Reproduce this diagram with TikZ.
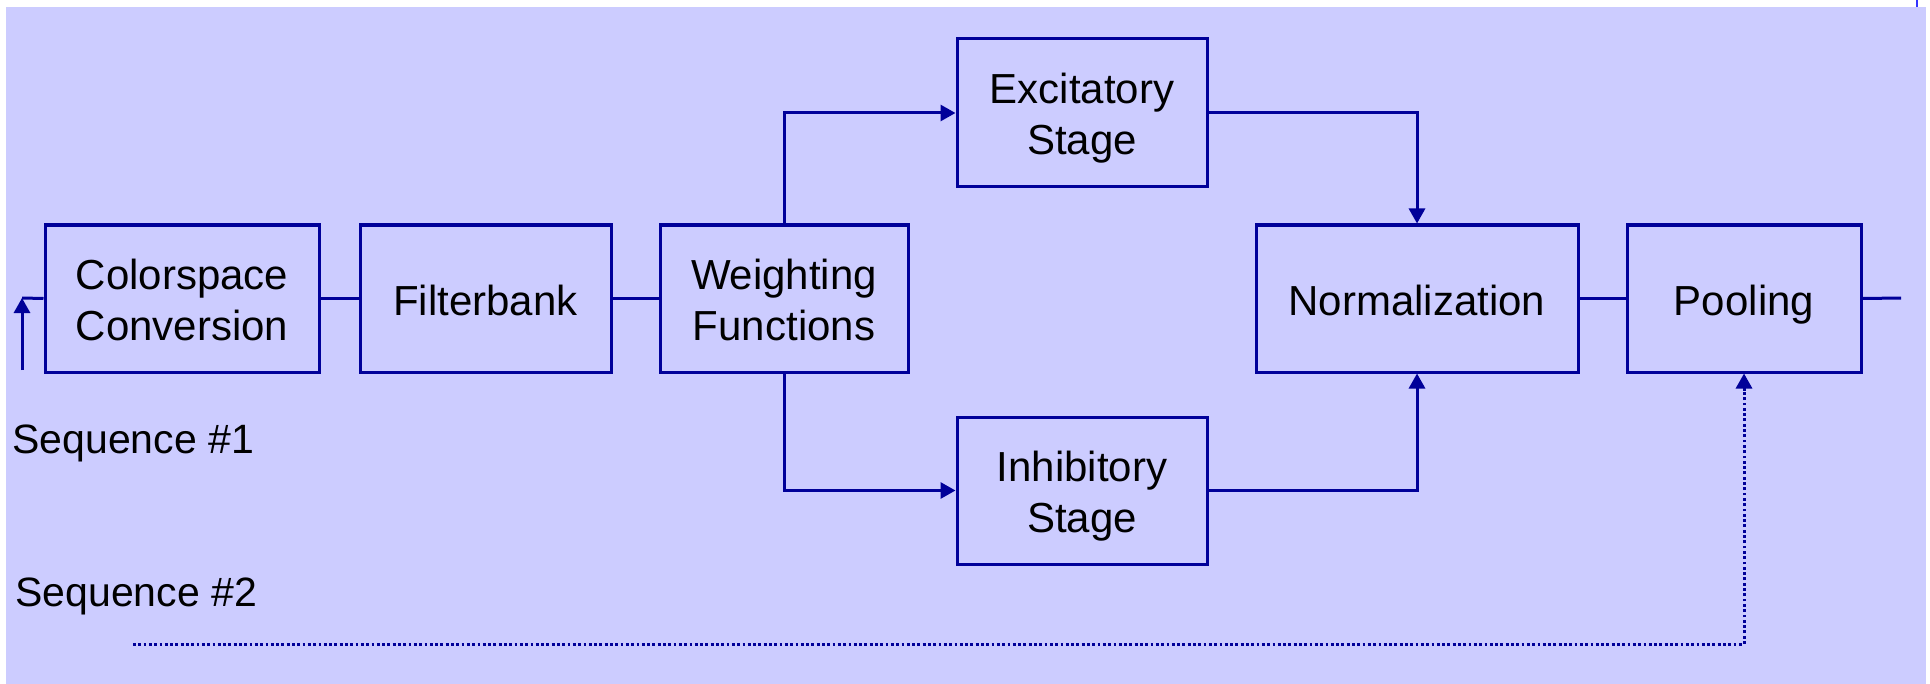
\documentclass[tikz,border=0pt]{standalone}
\usepackage{fontspec}
\setmainfont{Liberation Sans}
\usetikzlibrary{arrows.meta}
\definecolor{bgc}{HTML}{CCCCFF}
\definecolor{ln}{HTML}{000099}
\definecolor{tickblue}{HTML}{3333FF}
\begin{document}
\begin{tikzpicture}[x=0.5pt,y=-0.5pt,
  box/.style={draw=ln,line width=1.5pt,rectangle,inner sep=0pt,align=center,
    font=\fontsize{21pt}{25.5pt}\selectfont,minimum height=73.5pt},
  one/.style={text height=16.5pt,text depth=0pt},
  two/.style={text height=41.5pt,text depth=0pt},
  conn/.style={draw=ln,line width=1.5pt},
  arr/.style={conn,-{Triangle[length=7.5pt,width=8pt]}},
  dotline/.style={conn,dash pattern=on 1.4pt off 1.25pt},
  lab/.style={font=\fontsize{20.5pt}{25pt}\selectfont,inner sep=0pt,anchor=base west}]
\useasboundingbox (0,0) rectangle (1930,684);
\fill[bgc] (6,7) rectangle (1926,684);
\draw[tickblue,line width=1pt] (1917,0) -- (1917,7);

\node[box,two,minimum width=137pt] (cs) at (182,298.5) {Colorspace\\Conversion};
\node[box,one,minimum width=125.5pt] (fb) at (485.5,298.5) {Filterbank};
\node[box,two,minimum width=124pt] (wf) at (784,298.5) {Weighting\\Functions};
\node[box,two,minimum width=125pt,minimum height=74pt] (ex) at (1082,113) {Excitatory\\Stage};
\node[box,two,minimum width=125pt] (ih) at (1082,490.5) {Inhibitory\\Stage};
\node[box,one,minimum width=161pt] (nm) at (1417,298.5) {Normalization};
\node[box,one,minimum width=117pt] (pl) at (1744,298.5) {Pooling};

\node[lab] (s1) at (12,453) {Sequence \#1};
\node[lab] (s2) at (15,606) {Sequence \#2};

\coordinate (inb) at (22,370);
\coordinate (int) at (22,298);
\coordinate (outp) at (1901,298);
\coordinate (s2start) at (133,644);

\draw[arr] (inb) -- (int);
\draw[conn] (int) -- (cs.west);
\draw[conn] (cs.east) -- (fb.west);
\draw[conn] (fb.east) -- (wf.west);
\draw[arr] (wf.north) |- (ex.west);
\draw[arr] (ex.east) -| (nm.north);
\draw[arr] (wf.south) |- (ih.west);
\draw[arr] (ih.east) -| (nm.south);
\draw[conn] (nm.east) -- (pl.west);
\draw[conn] (pl.east) -- (outp);
\draw[dotline] (s2start) -| ([yshift=-8pt]pl.south);
\draw[arr] ([yshift=-8.5pt]pl.south) -- (pl.south);
\end{tikzpicture}
\end{document}
